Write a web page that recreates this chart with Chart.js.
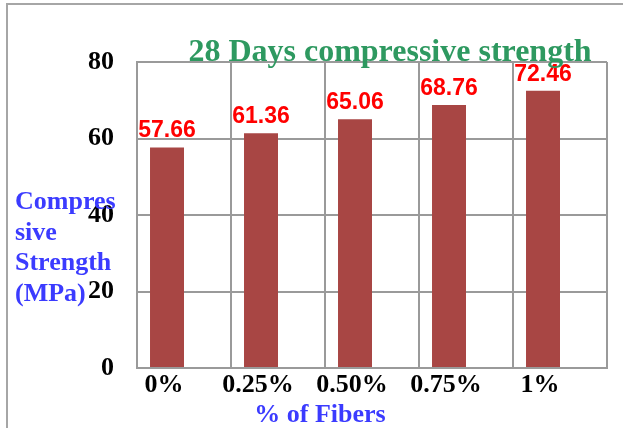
<!DOCTYPE html>
<html>
<head>
<meta charset="utf-8">
<script src="https://cdn.jsdelivr.net/npm/chart.js@4"></script>
<style>
  html, body { margin: 0; padding: 0; background: #fff; overflow: hidden; }
  #wrap { position: relative; width: 623px; height: 428px; }
  #frame { position: absolute; left: 6px; top: 3px; width: 700px; height: 500px;
           border-left: 2px solid #a6a6a6; border-top: 2px solid #a6a6a6; }
  canvas { position: absolute; left: 0; top: 0; }
</style>
</head>
<body>
<div id="wrap">
  <div id="frame"></div>
  <canvas id="myChart" width="623" height="428"></canvas>
</div>
<script>
const fibers = ['0%', '0.25%', '0.50%', '0.75%', '1%'];
const strength = [57.66, 61.36, 65.06, 68.76, 72.46];
const spareSeries = [];   // empty second series, keeps the bars left of centre
const yTicks = [0, 20, 40, 60, 80];
const chartTitle = '28 Days compressive strength';
const yTitle = ['Compres', 'sive', 'Strength', '(MPa)'];
const xTitle = '% of Fibers';

const serif = "'Liberation Serif', 'Times New Roman', serif";

// titles and value labels
const textPlugin = {
  id: 'texts',
  afterDatasetsDraw(chart) {
    const c = chart.ctx;
    c.save();
    c.font = "bold 23px 'Liberation Sans', Arial, sans-serif";
    c.fillStyle = '#ff0000';
    c.textAlign = 'center';
    c.textBaseline = 'alphabetic';
    chart.getDatasetMeta(0).data.forEach((bar, i) => {
      c.fillText(strength[i].toFixed(2), bar.x, bar.y - 10);
    });

    c.font = 'bold 32px ' + serif;
    c.fillStyle = '#2e9960';
    c.fillText(chartTitle, 390, 61);

    c.font = 'bold 26px ' + serif;
    c.fillStyle = '#3b3bff';
    c.fillText(xTitle, 320, 422);
    c.textAlign = 'left';
    yTitle.forEach((line, i) => c.fillText(line, 15, 209 + i * 30.5));
    c.restore();
  }
};

const config = {
  type: 'bar',
  data: {
    labels: fibers,
    datasets: [{
      data: strength,
      backgroundColor: '#a84644',
      borderWidth: 0,
      categoryPercentage: 0.723,
      barPercentage: 1
    }, {
      data: spareSeries,
      backgroundColor: '#a84644',
      categoryPercentage: 0.723,
      barPercentage: 1
    }]
  },
  options: {
    responsive: false,
    animation: false,
    layout: { padding: { top: 62, right: 16, left: 0, bottom: 0 } },
    plugins: { legend: { display: false }, tooltip: { enabled: false } },
    scales: {
      x: {
        afterFit(scale) { scale.height = 60; },
        grid: { color: '#9a9a9a', lineWidth: 2, drawTicks: false },
        border: { color: '#9a9a9a', width: 2 },
        ticks: {
          color: '#000',
          font: { family: serif, size: 26, weight: 'bold' },
          padding: 2,
          labelOffset: -20,
          maxRotation: 0
        }
      },
      y: {
        min: 0,
        max: 80,
        afterFit(scale) { scale.width = 137; },
        afterBuildTicks(scale) { scale.ticks = yTicks.map(v => ({ value: v })); },
        grid: { color: '#9a9a9a', lineWidth: 2, drawTicks: false },
        border: { color: '#9a9a9a', width: 2 },
        ticks: {
          color: '#000',
          font: { family: serif, size: 26, weight: 'bold' },
          padding: 23
        }
      }
    }
  },
  plugins: [textPlugin]
};

const ctx = document.getElementById('myChart').getContext('2d');
new Chart(ctx, config);
</script>
</body>
</html>
